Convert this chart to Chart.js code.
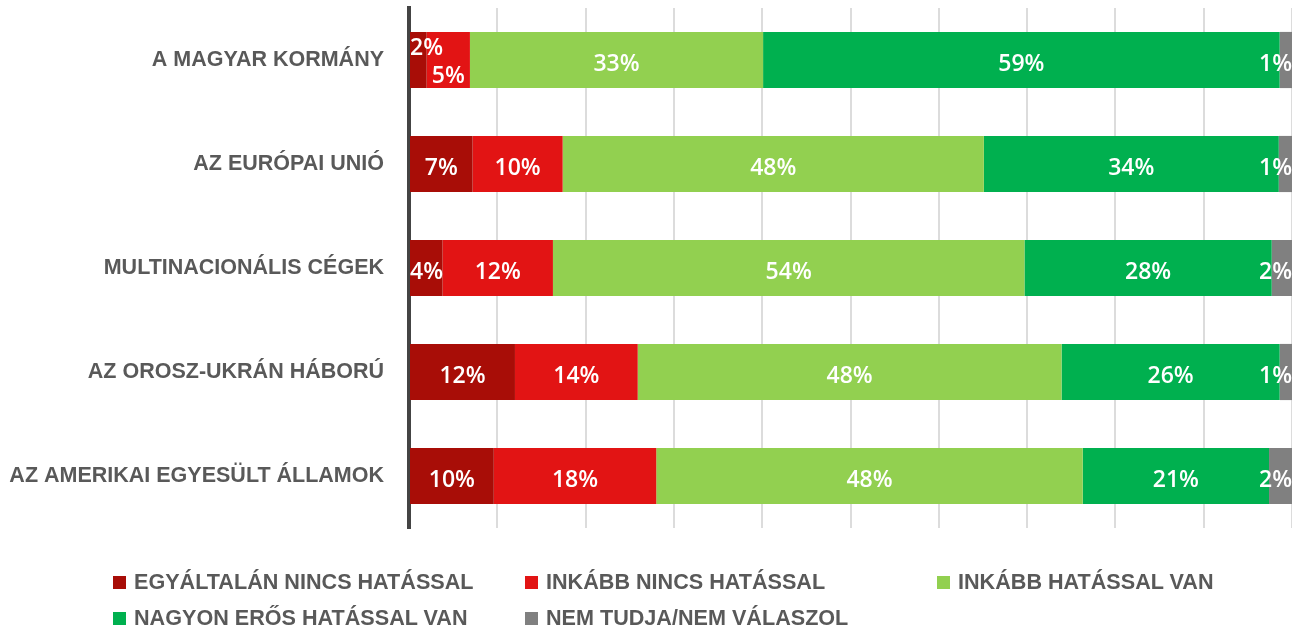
<!DOCTYPE html>
<html>
<head>
<meta charset="utf-8">
<script src="https://cdn.jsdelivr.net/npm/chart.js@4"></script>
<style>
  body { margin: 0; background: #fff; }
  #wrap { position: relative; width: 1292px; height: 627px; }
  #legend { position: absolute; left: 0; top: 0; width: 1292px; height: 627px; pointer-events: none; }
  .item { position: absolute; display: flex; align-items: center; height: 22px;
          font: bold 21.6px "Liberation Sans", Arial, sans-serif; color: #595959; white-space: nowrap; }
  .item span.box { display: inline-block; width: 13px; height: 13px; margin-right: 8px; }
</style>
</head>
<body>
<div id="wrap">
  <canvas id="chart"></canvas>
  <div id="legend"></div>
</div>
<script>
// categories, top to bottom
const categories = ['A MAGYAR KORMÁNY', 'AZ EURÓPAI UNIÓ', 'MULTINACIONÁLIS CÉGEK', 'AZ OROSZ-UKRÁN HÁBORÚ', 'AZ AMERIKAI EGYESÜLT ÁLLAMOK'];

// series names
const seriesNames = ['EGYÁLTALÁN NINCS HATÁSSAL', 'INKÁBB NINCS HATÁSSAL', 'INKÁBB HATÁSSAL VAN', 'NAGYON ERŐS HATÁSSAL VAN', 'NEM TUDJA/NEM VÁLASZOL'];
const seriesColors = ['#a80d07', '#e21414', '#92d050', '#00b04f', '#808080'];

// bar lengths (percent)
const noImpact  = [2.0, 7.2, 3.8, 12.0, 9.6];
const ratherNo  = [4.9, 10.2, 12.5, 13.9, 18.4];
const ratherYes = [33.2, 47.7, 53.4, 48.0, 48.3];
const strongYes = [58.5, 33.4, 28.0, 24.7, 21.1];
const dontKnow  = [1.4, 1.5, 2.3, 1.4, 2.6];

// printed labels
const noImpactLabels  = ['2%', '7%', '4%', '12%', '10%'];
const ratherNoLabels  = ['5%', '10%', '12%', '14%', '18%'];
const ratherYesLabels = ['33%', '48%', '54%', '48%', '48%'];
const strongYesLabels = ['59%', '34%', '28%', '26%', '21%'];
const dontKnowLabels  = ['1%', '1%', '2%', '1%', '2%'];

const seriesValues = [noImpact, ratherNo, ratherYes, strongYes, dontKnow];
const seriesLabels = [noImpactLabels, ratherNoLabels, ratherYesLabels, strongYesLabels, dontKnowLabels];

// value labels inside the bars
const barLabels = {
  id: 'barLabels',
  afterDatasetsDraw(chart) {
    const ctx = chart.ctx;
    const area = chart.chartArea;
    ctx.save();
    ctx.font = '600 23px "Open Sans", sans-serif';
    ctx.fillStyle = '#ffffff';
    ctx.textAlign = 'left';
    ctx.textBaseline = 'alphabetic';
    categories.forEach((c, i) => {
      const row = [];
      chart.data.datasets.forEach((ds, d) => {
        const bar = chart.getDatasetMeta(d).data[i];
        const text = ds.valueLabels[i];
        const w = ctx.measureText(text).width;
        let left = (bar.x + bar.base) / 2 - w / 2;
        if (left < area.left + 1) left = area.left + 1;
        if (left + w > area.right) left = area.right - w;
        row.push({ text, left, w, y: bar.y + 11 });
      });
      for (let k = 1; k < row.length; k++) {
        if (row[k - 1].left + row[k - 1].w > row[k].left) {
          row[k - 1].y -= 16;
          row[k].y += 12;
        }
      }
      row.forEach(l => ctx.fillText(l.text, l.left, l.y));
    });
    ctx.restore();
  }
};

new Chart(document.getElementById('chart'), {
  type: 'bar',
  data: {
    labels: categories,
    datasets: seriesNames.map((name, k) => ({
      label: name,
      data: seriesValues[k],
      valueLabels: seriesLabels[k],
      backgroundColor: seriesColors[k],
      borderWidth: 0,
      barPercentage: 0.54,
      categoryPercentage: 1
    }))
  },
  options: {
    indexAxis: 'y',
    responsive: true,
    maintainAspectRatio: false,
    animation: false,
    layout: { padding: { top: 8, bottom: 99, left: 0, right: 0 } },
    plugins: { legend: { display: false }, tooltip: { enabled: false } },
    scales: {
      x: {
        stacked: true,
        min: 0,
        max: 100,
        ticks: { display: false, stepSize: 10 },
        border: { display: false },
        grid: { color: '#dcdcdc', lineWidth: 2, drawTicks: false },
        afterFit: s => { s.height = 0; s.paddingLeft = 0; s.paddingRight = 0; s.paddingTop = 0; s.paddingBottom = 0; }
      },
      y: {
        stacked: true,
        grid: { display: false, drawTicks: false },
        border: { display: true, color: '#444444', width: 4 },
        ticks: {
          color: '#595959',
          padding: 25,
          font: { family: '"Liberation Sans", Arial, sans-serif', size: 21.5, weight: 'bold' }
        },
        afterFit: s => { s.width = 409; s.paddingTop = 0; s.paddingBottom = 0; s.paddingLeft = 0; s.paddingRight = 0; }
      }
    }
  },
  plugins: [barLabels]
});

// legend laid out in a grid, like the original
const legendCols = [113, 525, 937];
const legendRows = [571, 607];
const legendDiv = document.getElementById('legend');
seriesNames.forEach((name, k) => {
  const item = document.createElement('div');
  item.className = 'item';
  item.style.left = legendCols[k % 3] + 'px';
  item.style.top = legendRows[Math.floor(k / 3)] + 'px';
  item.innerHTML = `<span class="box" style="background:${seriesColors[k]}"></span>${name}`;
  legendDiv.appendChild(item);
});
</script>
</body>
</html>
